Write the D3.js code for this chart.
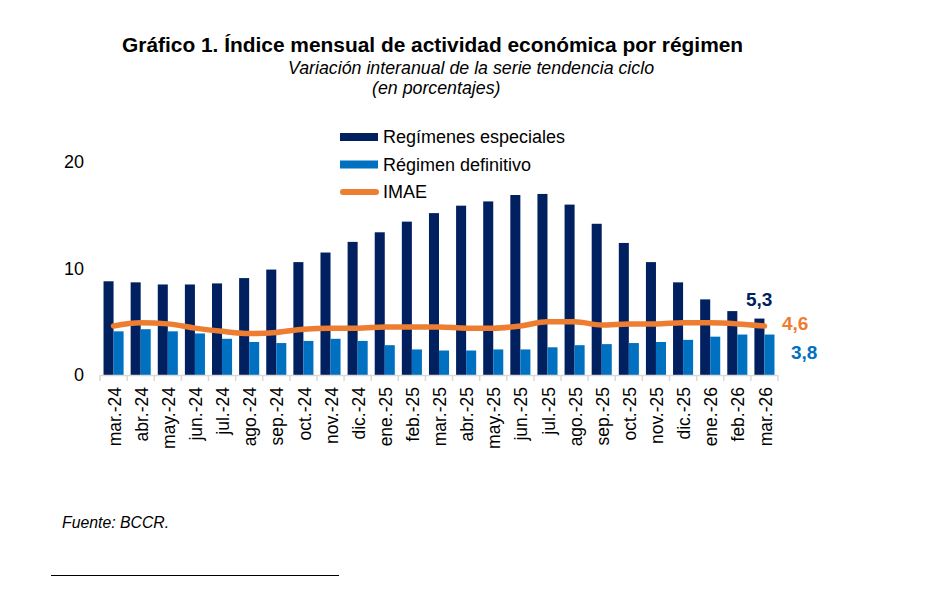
<!DOCTYPE html>
<html>
<head>
<meta charset="utf-8">
<script src="https://cdn.jsdelivr.net/npm/d3@7"></script>
<style>
  body { margin: 0; background: #fff; }
  svg { display: block; font-family: 'Liberation Sans', Arial, sans-serif; }
</style>
</head>
<body>
<svg id="chart" width="928" height="589"></svg>
<script>
const months = ['mar.-24', 'abr.-24', 'may.-24', 'jun.-24', 'jul.-24', 'ago.-24', 'sep.-24', 'oct.-24', 'nov.-24', 'dic.-24',
  'ene.-25', 'feb.-25', 'mar.-25', 'abr.-25', 'may.-25', 'jun.-25', 'jul.-25', 'ago.-25', 'sep.-25', 'oct.-25',
  'nov.-25', 'dic.-25', 'ene.-26', 'feb.-26', 'mar.-26'];
const especiales = [8.8, 8.7, 8.5, 8.5, 8.6, 9.1, 9.9, 10.6, 11.5, 12.5, 13.4, 14.4, 15.2, 15.9, 16.3, 16.9, 17.0, 16.0, 14.2, 12.4, 10.6, 8.7, 7.1, 6.0, 5.3];
const definitivo = [4.1, 4.3, 4.1, 3.9, 3.4, 3.1, 3.0, 3.2, 3.4, 3.2, 2.8, 2.4, 2.3, 2.3, 2.4, 2.4, 2.6, 2.8, 2.9, 3.0, 3.1, 3.3, 3.6, 3.8, 3.8];
const imae = [4.6, 4.9, 4.8, 4.4, 4.1, 3.9, 4.0, 4.3, 4.4, 4.4, 4.5, 4.5, 4.5, 4.4, 4.4, 4.6, 5.0, 5.0, 4.7, 4.8, 4.8, 4.9, 4.9, 4.8, 4.6];
const yTicks = [0, 10, 20];

const colors = { esp: '#002060', def: '#0070C0', imae: '#ED7D31' };

const svg = d3.select('#chart');

// titles
svg.append('text').attr('x', 122).attr('y', 52)
  .style('font-size', '20.9px').style('font-weight', 'bold')
  .text('Gráfico 1. Índice mensual de actividad económica por régimen');
svg.append('text').attr('x', 288).attr('y', 74)
  .style('font-size', '17.8px').style('font-style', 'italic')
  .text('Variación interanual de la serie tendencia ciclo');
svg.append('text').attr('x', 372).attr('y', 94)
  .style('font-size', '17.8px').style('font-style', 'italic')
  .text('(en porcentajes)');

const x = d3.scaleBand().domain(months).range([100, 778]).paddingInner(0.26).paddingOuter(0.13);
const y = d3.scaleLinear().domain([0, 20]).range([375, 162]);
const half = x.bandwidth() / 2;

// bars
const groups = svg.append('g').selectAll('g.month').data(months).join('g').classed('month', true)
  .attr('transform', d => `translate(${x(d)},0)`);

groups.append('rect').attr('x', 0).attr('width', half)
  .attr('y', (d, i) => y(especiales[i])).attr('height', (d, i) => y(0) - y(especiales[i]))
  .attr('fill', colors.esp);
groups.append('rect').attr('x', half).attr('width', half)
  .attr('y', (d, i) => y(definitivo[i])).attr('height', (d, i) => y(0) - y(definitivo[i]))
  .attr('fill', colors.def);

// x axis line + ticks at group boundaries
const gap = (x.step() - x.bandwidth()) / 2;
const axis = svg.append('g');
axis.append('line').attr('x1', x.range()[0]).attr('x2', x.range()[1])
  .attr('y1', y(0) + 0.5).attr('y2', y(0) + 0.5).attr('stroke', '#D9D9D9').attr('stroke-width', 1.5);
const bounds = months.map(m => x(m) - gap).concat([x(months[months.length - 1]) + x.bandwidth() + gap]);
axis.selectAll('line.tick').data(bounds).join('line').classed('tick', true)
  .attr('x1', d => d).attr('x2', d => d).attr('y1', y(0)).attr('y2', y(0) + 6)
  .attr('stroke', '#D9D9D9').attr('stroke-width', 1.5);

axis.selectAll('text.xl').data(months).join('text').classed('xl', true)
  .attr('transform', d => `translate(${x(d) + half + 1},387) rotate(-90)`)
  .attr('text-anchor', 'end').attr('dy', '0.35em')
  .style('font-size', '17.5px')
  .text(d => d);

// y axis labels
const yAxis = svg.append('g').attr('transform', 'translate(84,0)')
  .call(d3.axisLeft(y).tickValues(yTicks).tickSize(0).tickPadding(0).tickFormat(d3.format('d')));
yAxis.select('.domain').remove();
yAxis.selectAll('text').style('font-size', '18px').style('font-family', "'Liberation Sans', Arial, sans-serif").attr('fill', '#000');

// IMAE line
const line = d3.line().x((d, i) => x(months[i]) + half).y(d => y(d)).curve(d3.curveMonotoneX);
svg.append('path').datum(imae).attr('d', line)
  .attr('fill', 'none').attr('stroke', colors.imae).attr('stroke-width', 5.5)
  .attr('stroke-linecap', 'round').attr('stroke-linejoin', 'round');

// end labels
const last = months.length - 1;
const fmt = v => d3.format('.1f')(v).replace('.', ',');
svg.append('text').attr('x', 746).attr('y', 306).attr('fill', colors.esp)
  .style('font-size', '19px').style('font-weight', 'bold').text(fmt(especiales[last]));
svg.append('text').attr('x', 782).attr('y', 330).attr('fill', colors.imae)
  .style('font-size', '19px').style('font-weight', 'bold').text(fmt(imae[last]));
svg.append('text').attr('x', 791).attr('y', 359).attr('fill', colors.def)
  .style('font-size', '19px').style('font-weight', 'bold').text(fmt(definitivo[last]));

// legend
const legendItems = [
  { label: 'Regímenes especiales', color: colors.esp, type: 'bar' },
  { label: 'Régimen definitivo', color: colors.def, type: 'bar' },
  { label: 'IMAE', color: colors.imae, type: 'line' }
];
const legend = svg.append('g').selectAll('g').data(legendItems).join('g')
  .attr('transform', (d, i) => `translate(340,${137 + i * 27.5})`);
legend.filter(d => d.type === 'bar').append('rect')
  .attr('x', 0).attr('y', -4).attr('width', 38).attr('height', 8).attr('fill', d => d.color);
legend.filter(d => d.type === 'line').append('line')
  .attr('x1', 3).attr('x2', 36).attr('y1', 0).attr('y2', 0)
  .attr('stroke', d => d.color).attr('stroke-width', 6).attr('stroke-linecap', 'round');
legend.append('text').attr('x', 43).attr('y', 0).attr('dy', '0.36em')
  .style('font-size', '18px').text(d => d.label);

// source + footnote rule
svg.append('text').attr('x', 62).attr('y', 528)
  .style('font-size', '15.8px').style('font-style', 'italic').text('Fuente: BCCR.');
svg.append('line').attr('x1', 51).attr('x2', 339).attr('y1', 575.5).attr('y2', 575.5)
  .attr('stroke', '#000').attr('stroke-width', 1);
</script>
</body>
</html>
